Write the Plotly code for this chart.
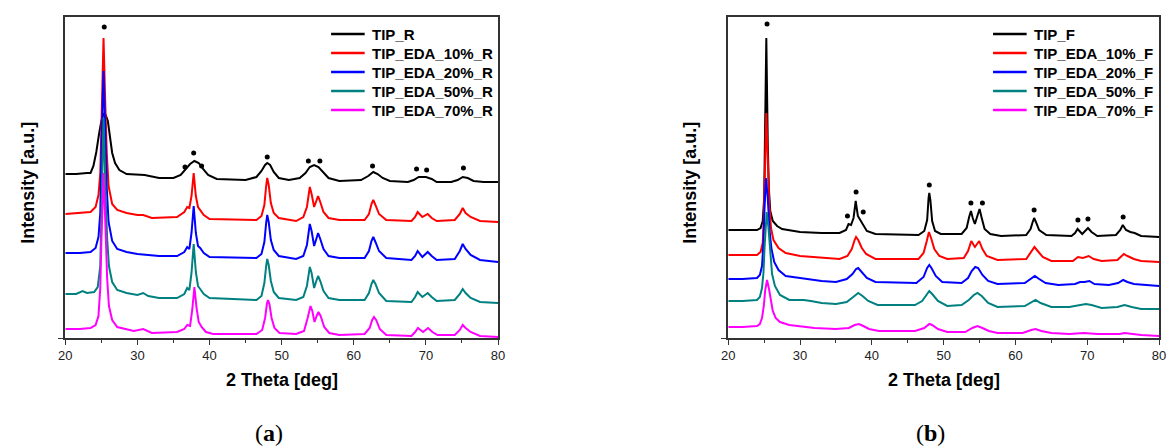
import plotly.graph_objects as go

# ---------------- panel (a): samples ending in _R ----------------
# (2 theta [deg], intensity [a.u., stacked offset]) points along each pattern
TIP_R = [(20.0,164),(21.5,164),(23.0,165),(23.5,165),(23.9,172),(24.3,186),(24.7,205),(25.0,217),(25.3,224),(25.6,223),(25.9,217),(26.2,203),(26.5,185),(26.9,175),(27.5,168),(28.5,164),(31.0,163),(33.0,160),(35.0,160),(36.0,163),(36.7,169),(37.3,174),(37.9,177),(38.5,175),(39.1,169),(39.8,163),(41.0,159),(45.0,158),(46.5,161),(47.2,167),(47.7,173),(48.0,175),(48.4,173),(48.9,166),(49.6,160),(51.0,158),(52.5,160),(53.3,165),(53.9,171),(54.5,173),(55.1,171),(55.8,165),(56.5,160),(58.0,157),(61.0,158),(62.0,162),(62.7,166),(63.3,164),(64.0,160),(65.0,157),(67.5,156),(68.3,158),(69.0,161),(70.0,161),(70.8,159),(71.5,156),(73.5,156),(74.4,158),(75.1,161),(75.8,160),(76.6,157),(78.0,156),(80.0,156)]

TIP_EDA_10_R = [(20.0,124),(22.0,125),(23.5,126),(24.2,131),(24.6,143),(24.85,165),(25.05,225),(25.3,300),(25.55,232),(25.75,185),(26.0,152),(26.5,134),(27.2,128),(28.5,125),(30.0,123),(30.8,123),(32.0,120),(35.5,121),(36.5,126),(36.9,131),(37.2,130),(37.5,142),(37.8,165),(38.1,142),(38.4,131),(38.7,128),(39.2,123),(40.0,119),(44.0,118),(46.5,118),(47.2,122),(47.6,133),(47.85,152),(48.0,160),(48.2,153),(48.5,135),(48.9,125),(49.6,120),(52.0,117),(53.0,121),(53.5,131),(53.75,146),(53.9,151),(54.15,144),(54.5,131),(54.8,137),(55.05,142),(55.35,136),(55.8,126),(56.5,120),(58.0,118),(61.5,118),(62.1,124),(62.45,134),(62.7,138),(63.0,133),(63.5,124),(64.5,118),(68.0,117),(68.5,121),(68.85,126),(69.5,121),(70.25,124),(70.8,120),(71.5,117),(74.0,118),(74.7,124),(75.1,130),(75.5,125),(76.2,121),(77.5,117),(80.0,116)]

TIP_EDA_20_R = [(20.0,85),(22.0,85),(23.5,86),(24.2,90),(24.6,101),(24.85,125),(25.05,200),(25.3,267),(25.55,205),(25.75,150),(26.0,116),(26.5,97),(27.2,89),(28.5,86),(30.0,84),(33.0,82),(35.5,82),(36.5,86),(36.9,91),(37.2,89),(37.5,105),(37.8,132),(38.1,105),(38.4,92),(38.7,90),(39.2,85),(40.0,81),(46.5,80),(47.2,84),(47.6,96),(47.85,115),(48.0,123),(48.2,116),(48.5,98),(48.9,88),(49.6,82),(52.0,79),(53.0,82),(53.5,93),(53.75,108),(53.9,114),(54.15,107),(54.5,92),(54.8,99),(55.05,105),(55.35,99),(55.8,89),(56.5,82),(58.0,80),(61.5,80),(62.1,87),(62.45,97),(62.7,101),(63.0,96),(63.5,87),(64.5,80),(68.0,78),(68.5,82),(68.85,87),(69.5,81),(70.25,86),(70.8,82),(71.5,78),(74.0,79),(74.7,87),(75.1,94),(75.5,89),(76.2,83),(77.5,78),(80.0,76)]

TIP_EDA_50_R = [(20.0,44),(21.5,44),(22.4,47),(23.0,45),(24.0,46),(24.5,51),(24.85,72),(25.0,120),(25.3,220),(25.6,140),(25.8,100),(26.05,72),(26.5,56),(27.2,48),(28.5,45),(30.0,43),(30.8,45),(31.5,42),(33.0,40),(35.5,40),(36.5,44),(36.9,50),(37.2,48),(37.5,65),(37.8,94),(38.1,66),(38.4,52),(38.7,49),(39.2,44),(40.0,40),(46.5,38),(47.2,42),(47.6,55),(47.85,72),(48.0,79),(48.2,73),(48.5,57),(48.9,46),(49.6,40),(52.0,38),(53.0,41),(53.5,52),(53.75,66),(53.9,71),(54.15,65),(54.5,50),(54.8,57),(55.05,62),(55.35,57),(55.8,47),(56.5,40),(58.0,38),(61.5,38),(62.1,45),(62.45,54),(62.7,58),(63.0,54),(63.5,45),(64.5,37),(68.0,36),(68.5,41),(68.85,46),(69.5,41),(70.25,45),(70.8,41),(71.5,37),(74.0,38),(74.7,44),(75.1,49),(75.5,45),(76.2,40),(77.5,36),(80.0,35)]

TIP_EDA_70_R = [(20.0,9),(22.0,9),(23.5,10),(24.2,13),(24.6,22),(24.85,50),(25.0,95),(25.3,165),(25.6,105),(25.8,60),(26.05,32),(26.5,18),(27.2,11),(28.5,9),(29.5,7),(30.8,9),(32.0,5),(35.5,6),(36.5,9),(36.9,13),(37.3,12),(37.6,28),(37.9,51),(38.2,30),(38.5,16),(38.9,11),(39.5,6),(40.5,4),(46.5,4),(47.3,8),(47.7,20),(47.95,34),(48.1,38),(48.3,34),(48.6,20),(49.0,10),(49.7,5),(52.0,4),(53.1,7),(53.6,20),(53.85,30),(54.0,32),(54.25,27),(54.55,16),(54.85,22),(55.1,26),(55.4,22),(55.9,11),(56.6,5),(58.0,3),(61.5,4),(62.2,10),(62.55,18),(62.8,21),(63.1,18),(63.6,9),(64.5,3),(68.0,2),(68.5,6),(68.9,10),(69.6,6),(70.3,10),(70.9,6),(71.6,3),(74.0,3),(74.7,8),(75.1,13),(75.5,10),(76.2,6),(77.5,2),(80.0,1)]

# anatase reflections marked above the top pattern
marks_a_x = [25.4, 36.6, 37.8, 38.9, 48.0, 53.7, 55.3, 62.6, 68.7, 70.1, 75.2]
marks_a_y = [311, 171, 185, 172, 181, 177, 177, 172, 169, 168, 170]

# ---------------- panel (b): samples ending in _F ----------------
TIP_F = [(20.0,108),(22.0,108),(24.0,108),(24.5,110),(24.8,117),(25.0,140),(25.1,190),(25.3,300),(25.5,195),(25.65,150),(25.85,127),(26.2,117),(26.8,112),(27.5,109),(30.0,106),(33.0,105),(35.5,105),(36.4,108),(36.75,114),(37.1,113),(37.45,120),(37.75,137),(38.05,122),(38.45,117),(38.8,112),(39.3,107),(40.5,104),(46.5,103),(47.3,107),(47.7,118),(47.9,140),(48.0,145),(48.15,138),(48.4,117),(48.8,107),(49.6,104),(52.5,104),(53.2,110),(53.55,121),(53.8,127),(54.05,120),(54.35,114),(54.65,121),(55.0,129),(55.3,120),(55.7,109),(56.5,104),(58.0,102),(61.5,103),(62.1,109),(62.4,116),(62.6,120),(62.85,116),(63.3,108),(64.3,103),(67.8,102),(68.3,105),(68.65,109),(69.3,104),(70.1,110),(70.6,106),(71.4,102),(74.0,103),(74.6,108),(74.95,113),(75.4,108),(76.0,106),(76.6,105),(77.5,102),(80.0,101)]

TIP_EDA_10_F = [(20.0,83),(22.0,83),(24.0,83),(24.5,86),(24.8,95),(24.95,120),(25.1,175),(25.3,225),(25.5,180),(25.7,135),(25.95,110),(26.3,98),(27.0,90),(28.0,85),(30.0,82),(33.0,80),(35.5,79),(36.6,82),(37.2,89),(37.6,98),(37.8,101),(38.1,98),(38.6,90),(39.2,84),(40.5,79),(46.5,79),(47.2,85),(47.65,97),(47.95,106),(48.25,100),(48.7,89),(49.4,82),(50.5,79),(52.8,80),(53.4,87),(53.85,97),(54.35,91),(54.95,97),(55.4,89),(56.0,82),(57.5,78),(61.5,79),(62.2,86),(62.65,91),(63.1,87),(63.8,81),(65.0,77),(68.0,77),(68.7,81),(69.4,80),(70.2,82),(70.9,79),(72.0,77),(74.2,78),(74.8,82),(75.1,84),(75.6,82),(76.5,79),(77.5,77),(80.0,76)]

TIP_EDA_20_F = [(20.0,59),(22.0,59),(24.0,60),(24.4,63),(24.7,72),(24.9,95),(25.05,130),(25.25,160),(25.5,140),(25.75,108),(26.0,90),(26.4,76),(27.0,68),(28.0,62),(30.0,60),(31.0,59),(33.0,57),(35.0,56),(36.5,59),(37.3,64),(37.8,69),(38.1,70),(38.6,66),(39.3,60),(40.5,56),(46.2,55),(47.2,61),(47.7,70),(48.0,73),(48.3,70),(48.9,62),(49.8,56),(52.5,55),(53.4,60),(53.9,67),(54.4,71),(54.8,70),(55.4,63),(56.2,57),(57.5,54),(61.3,55),(62.1,59),(62.7,62),(63.3,59),(64.2,55),(66.0,53),(68.3,54),(69.0,56),(69.6,56),(70.3,57),(71.0,54),(73.0,53),(74.3,55),(75.0,58),(75.6,56),(76.5,54),(78.0,53),(80.0,52)]

TIP_EDA_50_F = [(20.0,37),(22.0,37),(24.0,38),(24.4,41),(24.7,50),(24.9,65),(25.05,90),(25.35,126),(25.6,110),(25.85,82),(26.1,64),(26.5,52),(27.2,43),(28.5,38),(30.5,38),(31.5,37),(33.0,35),(35.0,34),(36.5,36),(37.4,41),(38.1,45),(38.7,42),(39.5,37),(40.8,33),(46.0,33),(47.0,37),(47.7,44),(48.0,47),(48.4,44),(49.2,37),(50.5,32),(52.5,33),(53.5,38),(54.2,43),(54.7,45),(55.3,42),(56.2,35),(57.5,31),(61.3,32),(62.2,36),(62.8,38),(63.5,35),(65.0,31),(67.5,31),(69.0,33),(69.8,34),(70.6,33),(72.0,30),(74.2,31),(75.2,33),(76.2,31),(77.5,29),(80.0,29)]

TIP_EDA_70_F = [(20.0,11),(22.0,11),(24.0,12),(24.4,14),(24.7,20),(24.95,32),(25.15,48),(25.4,58),(25.65,50),(25.9,38),(26.2,27),(26.6,20),(27.2,16),(28.5,13),(30.0,12),(32.0,10),(35.0,9),(36.8,10),(37.6,13),(38.2,14),(38.8,12),(39.6,9),(41.0,7),(46.0,7),(47.3,10),(48.0,14),(48.4,13),(49.2,9),(50.5,6),(53.0,6),(54.0,10),(54.7,12),(55.4,10),(56.3,7),(57.5,5),(61.0,5),(62.2,8),(62.8,9),(63.6,7),(65.0,5),(67.5,4),(69.5,5),(71.5,4),(74.5,4),(75.2,5),(76.2,4),(77.5,3),(80.0,2)]

marks_b_x = [25.4, 36.6, 37.8, 38.8, 48.0, 53.8, 55.4, 62.6, 68.7, 70.1, 75.0]
marks_b_y = [314, 122, 146, 126, 153, 135, 135, 128, 118, 119, 121]

x_ticks = [20, 30, 40, 50, 60, 70, 80]
colors = ["#000000", "#ff0000", "#0000ff", "#008080", "#ff00ff"]

panel_a = [("TIP_R", TIP_R), ("TIP_EDA_10%_R", TIP_EDA_10_R), ("TIP_EDA_20%_R", TIP_EDA_20_R),
           ("TIP_EDA_50%_R", TIP_EDA_50_R), ("TIP_EDA_70%_R", TIP_EDA_70_R)]
panel_b = [("TIP_F", TIP_F), ("TIP_EDA_10%_F", TIP_EDA_10_F), ("TIP_EDA_20%_F", TIP_EDA_20_F),
           ("TIP_EDA_50%_F", TIP_EDA_50_F), ("TIP_EDA_70%_F", TIP_EDA_70_F)]

W, H = 1170, 446
FONT = "Liberation Sans, Arial, sans-serif"

fig = go.Figure()

for (name, pts), col in zip(panel_a, colors):
    fig.add_trace(go.Scatter(x=[p[0] for p in pts], y=[p[1] for p in pts], name=name, mode="lines",
                             line=dict(color=col, width=2), xaxis="x", yaxis="y", showlegend=False))
for (name, pts), col in zip(panel_b, colors):
    fig.add_trace(go.Scatter(x=[p[0] for p in pts], y=[p[1] for p in pts], name=name, mode="lines",
                             line=dict(color=col, width=2), xaxis="x2", yaxis="y2", showlegend=False))

fig.add_trace(go.Scatter(x=marks_a_x, y=marks_a_y, mode="markers", showlegend=False,
                         marker=dict(color="black", size=5), xaxis="x", yaxis="y"))
fig.add_trace(go.Scatter(x=marks_b_x, y=marks_b_y, mode="markers", showlegend=False,
                         marker=dict(color="black", size=5), xaxis="x2", yaxis="y2"))

y_dom = [1 - 338 / H, 1 - 17 / H]
AX_COL = "#333333"

def xaxis_style(domain, anchor):
    return dict(domain=domain, anchor=anchor, range=[20, 80], tickvals=x_ticks,
                ticks="outside", ticklen=5, tickwidth=1.3, tickcolor=AX_COL,
                minor=dict(tick0=25, dtick=10, ticks="outside", ticklen=3, tickwidth=1.3, tickcolor=AX_COL),
                showline=True, linecolor=AX_COL, linewidth=1.5, mirror=True,
                showgrid=False, zeroline=False,
                tickfont=dict(family=FONT, size=13, color="#222222"))

def yaxis_style(anchor):
    return dict(domain=y_dom, anchor=anchor, range=[0, 321], tickvals=[0],
                ticks="outside", ticklen=6, tickwidth=1.3, tickcolor=AX_COL,
                showticklabels=False, showline=True, linecolor=AX_COL, linewidth=1.5,
                mirror=True, showgrid=False, zeroline=False)

fig.update_layout(
    width=W, height=H, margin=dict(l=0, r=0, t=0, b=0),
    paper_bgcolor="white", plot_bgcolor="white",
    xaxis=xaxis_style([59 / W, 497 / W], "y"),
    yaxis=yaxis_style("x"),
    xaxis2=xaxis_style([730 / W, 1166 / W], "y2"),
    yaxis2=yaxis_style("x2"),
    showlegend=False,
)

# legend boxes: a short line sample followed by the series name
legend_rows = [34, 53, 72, 91, 110]
for names, x_line in (([n for n, _ in panel_a], 328), ([n for n, _ in panel_b], 998)):
    for name, col, ry in zip(names, colors, legend_rows):
        fig.add_shape(type="line", xref="paper", yref="paper",
                      x0=x_line / W, x1=(x_line + 34) / W, y0=1 - ry / H, y1=1 - ry / H,
                      line=dict(color=col, width=2.5))
        fig.add_annotation(text="<b>%s</b>" % name, x=(x_line + 39) / W, y=1 - ry / H,
                           xref="paper", yref="paper", xanchor="left", yanchor="middle",
                           showarrow=False, font=dict(family=FONT, size=15, color="black"))

# axis titles and panel captions
def note(text, px, py, size, angle=0, family=FONT):
    fig.add_annotation(text=text, x=px / W, y=1 - py / H, xref="paper", yref="paper",
                       xanchor="center", yanchor="middle", showarrow=False, textangle=angle,
                       font=dict(family=family, size=size, color="black"))

note("<b>2 Theta [deg]</b>", 278, 380, 18)
note("<b>2 Theta [deg]</b>", 948, 380, 18)
note("<b>Intensity [a.u.]</b>", 21, 183, 18, angle=-90)
note("<b>Intensity [a.u.]</b>", 691, 183, 18, angle=-90)
note("(<b>a</b>)", 265, 433, 24, family="Liberation Serif, DejaVu Serif, serif")
note("(<b>b</b>)", 935, 433, 24, family="Liberation Serif, DejaVu Serif, serif")

fig.write_html("out.html")
